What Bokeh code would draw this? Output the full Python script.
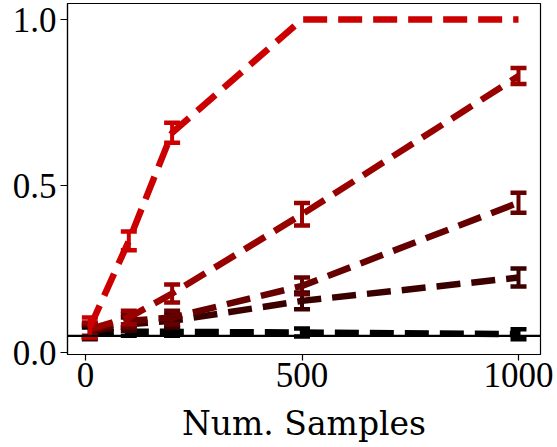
from bokeh.plotting import figure
from bokeh.models import Span, FixedTicker, Range1d
from bokeh.embed import file_html
from bokeh.resources import INLINE

# ---- data ----
samples = [10, 100, 200, 500, 1000]
series_names = ["s1", "s2", "s3", "s4", "s5"]
series_colors = ["#cc0000", "#990000", "#660000", "#3a0000", "#000000"]
s1 = [0.075, 0.335, 0.66, 1.0, 1.0]
s1_err = [0.03, 0.028, 0.03, 0.0, 0.0]
s2 = [0.07, 0.105, 0.177, 0.415, 0.83]
s2_err = [0.02, 0.02, 0.027, 0.034, 0.024]
s3 = [0.065, 0.095, 0.105, 0.2, 0.45]
s3_err = [0.02, 0.02, 0.02, 0.025, 0.03]
s4 = [0.06, 0.085, 0.095, 0.155, 0.225]
s4_err = [0.02, 0.02, 0.02, 0.025, 0.027]
s5 = [0.06, 0.062, 0.062, 0.06, 0.055]
s5_err = [0.015, 0.012, 0.012, 0.012, 0.015]
baseline = 0.05
x_ticks = [0, 500, 1000]
y_ticks = [0.0, 0.5, 1.0]
y_tick_labels = {0.0: "0.0", 0.5: "0.5", 1.0: "1.0"}
x_label = "Num. Samples"

values = [s1, s2, s3, s4, s5]
errors = [s1_err, s2_err, s3_err, s4_err, s5_err]

p = figure(width=557, height=445, output_backend="svg", toolbar_location=None,
           x_range=Range1d(-41.6, 1050.8), y_range=Range1d(-0.006, 1.048),
           min_border_left=67, min_border_right=17, min_border_top=3,
           min_border_bottom=90)
p.background_fill_color = "white"
p.border_fill_color = "white"
p.grid.visible = False
p.outline_line_color = "black"
p.outline_line_width = 1.2

tick_font = "Liberation Serif"
for ax in (p.xaxis[0], p.yaxis[0]):
    ax.major_label_text_font = tick_font
    ax.major_label_text_font_size = "35px"
    ax.major_label_text_color = "black"
    ax.axis_line_color = "black"
    ax.axis_line_width = 1.2
    ax.major_tick_line_color = "black"
    ax.major_tick_line_width = 1.2
    ax.major_tick_in = 0
    ax.minor_tick_line_color = None

p.xaxis.ticker = FixedTicker(ticks=x_ticks)
p.yaxis.ticker = FixedTicker(ticks=y_ticks)
p.yaxis.major_label_overrides = y_tick_labels
p.xaxis.major_tick_out = 6
p.yaxis.major_tick_out = 7
p.xaxis.major_label_standoff = 2
p.yaxis.major_label_standoff = 4
p.xaxis.axis_label = x_label
p.xaxis.axis_label_text_font = "DejaVu Serif"
p.xaxis.axis_label_text_font_size = "33px"
p.xaxis.axis_label_text_font_style = "normal"
p.xaxis.axis_label_text_color = "black"
p.xaxis.axis_label_standoff = 14

p.add_layout(Span(location=baseline, dimension="width", line_color="black", line_width=2.2))

for i in reversed(range(len(values))):
    ys = values[i]
    es = errors[i]
    c = series_colors[i]
    p.line(samples, ys, line_color=c, line_width=6.5, line_dash="24 11")
    lo = [y - e for y, e in zip(ys, es)]
    hi = [y + e for y, e in zip(ys, es)]
    keep = [j for j in range(len(samples)) if es[j] > 0]
    xs_k = [samples[j] for j in keep]
    p.segment(x0=xs_k, y0=[lo[j] for j in keep], x1=xs_k, y1=[hi[j] for j in keep],
              line_color=c, line_width=4)
    p.scatter(xs_k + xs_k, [lo[j] for j in keep] + [hi[j] for j in keep], marker="dash",
              size=16, line_color=c, line_width=4.5)

open("out.html", "w").write(file_html(p, INLINE))
